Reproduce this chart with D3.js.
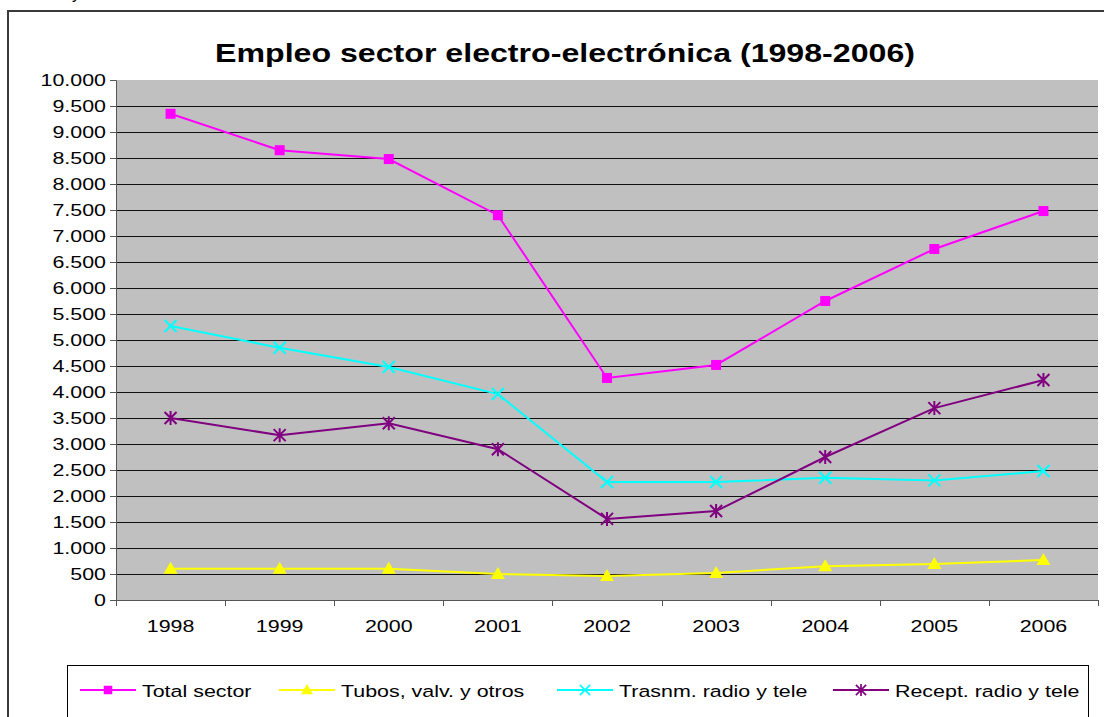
<!DOCTYPE html>
<html>
<head>
<meta charset="utf-8">
<script src="https://cdn.jsdelivr.net/npm/d3@7"></script>
<style>
  body { margin: 0; background: #fff; }
  svg { display: block; font-family: 'Liberation Sans', Arial, sans-serif; }
</style>
</head>
<body>
<div id="chart"></div>
<script>
const years = ['1998', '1999', '2000', '2001', '2002', '2003', '2004', '2005', '2006']
const yTicks = d3.range(0, 10001, 500)

const totalSector = [9350, 8650, 8480, 7400, 4270, 4520, 5750, 6750, 7480]
const tubos = [600, 600, 600, 500, 460, 520, 650, 690, 770]
const trasnm = [5270, 4850, 4480, 3960, 2270, 2270, 2350, 2300, 2480]
const recept = [3500, 3170, 3400, 2900, 1560, 1710, 2750, 3690, 4230]

const seriesNames = ['Total sector', 'Tubos, valv. y otros', 'Trasnm. radio y tele', 'Recept. radio y tele']
const seriesColors = ['#FF00FF', '#FFFF00', '#00FFFF', '#800080']
const seriesMarkers = ['square', 'triangle', 'x', 'star']
const seriesValues = [totalSector, tubos, trasnm, recept]

const W = 1104, H = 717
const plot = { left: 116, top: 80, right: 1098, bottom: 600 }
// the original text is drawn a bit wider than plain Arial
const SX = 1.26

const svg = d3.select('#chart').append('svg')
  .attr('width', W).attr('height', H)

// stray letter cut off at the top of the capture
svg.append('text').attr('x', 72).attr('y', -1)
  .attr('font-size', 16).text('y')

// outer chart border
svg.append('rect')
  .attr('x', 8).attr('y', 11).attr('width', W + 10).attr('height', H)
  .attr('fill', '#fff').attr('stroke', '#3a3a3a').attr('stroke-width', 2)

svg.append('text')
  .attr('transform', `translate(565,62) scale(${SX},1)`)
  .attr('text-anchor', 'middle')
  .attr('font-size', 25.5).attr('font-weight', 'bold')
  .text('Empleo sector electro-electrónica (1998-2006)')

const x = d3.scaleBand().domain(years).range([plot.left, plot.right])
const y = d3.scaleLinear().domain([0, 10000]).range([plot.bottom, plot.top])

// plot background
svg.append('rect')
  .attr('x', plot.left).attr('y', plot.top)
  .attr('width', plot.right - plot.left).attr('height', plot.bottom - plot.top)
  .attr('fill', '#C0C0C0')

// gridlines
svg.append('g')
  .selectAll('line')
  .data(yTicks.filter((d) => d > 0 && d < 10000))
  .join('line')
  .attr('x1', plot.left).attr('x2', plot.right)
  .attr('y1', (d) => Math.round(y(d)) + 0.5).attr('y2', (d) => Math.round(y(d)) + 0.5)
  .attr('stroke', '#111').attr('stroke-width', 1)

const fmt = (d) => d3.format(',')(d).replace(/,/g, '.')

// Y axis
const yAxis = svg.append('g')
  .attr('transform', `translate(${plot.left},0)`)
  .call(d3.axisLeft(y).tickValues(yTicks).tickSize(6).tickPadding(4).tickFormat(fmt))
yAxis.select('.domain').attr('stroke', '#555')
yAxis.selectAll('.tick line').attr('stroke', '#555')
yAxis.selectAll('text').attr('font-size', 17).attr('fill', '#000')
  .attr('font-family', "'Liberation Sans', Arial, sans-serif")
  .attr('x', -10 / SX)
  .attr('transform', `scale(${SX},1)`)

// X axis
const xAxis = svg.append('g')
  .attr('transform', `translate(0,${plot.bottom})`)
  .call(d3.axisBottom(x).tickSize(0).tickPadding(20))
xAxis.select('.domain').attr('stroke', '#555').attr('d', `M${plot.left},0.5H${plot.right}`)
xAxis.selectAll('text').attr('font-size', 17).attr('fill', '#000')
  .attr('font-family', "'Liberation Sans', Arial, sans-serif")
  .attr('transform', `scale(${SX},1)`)
svg.append('g')
  .selectAll('line')
  .data(years.concat(['end']))
  .join('line')
  .attr('x1', (d, i) => Math.round(plot.left + i * x.step()) + 0.5)
  .attr('x2', (d, i) => Math.round(plot.left + i * x.step()) + 0.5)
  .attr('y1', plot.bottom).attr('y2', plot.bottom + 6)
  .attr('stroke', '#555')

const cx = (d, i) => x(years[i]) + x.bandwidth() / 2

const drawMarker = (g, type, color) => {
  if (type === 'square') {
    g.append('rect').attr('x', -5).attr('y', -5).attr('width', 10).attr('height', 10)
      .attr('fill', color)
  } else if (type === 'triangle') {
    g.append('path').attr('d', 'M0,-7L7,5L-7,5Z').attr('fill', color)
  } else if (type === 'x') {
    g.append('path').attr('d', 'M-6,-6L6,6M-6,6L6,-6')
      .attr('stroke', color).attr('stroke-width', 2)
  } else {
    g.append('path').attr('d', 'M-6,-6L6,6M-6,6L6,-6M0,-7V7')
      .attr('stroke', color).attr('stroke-width', 2)
  }
}

const line = d3.line().x(cx).y((d) => y(d))

seriesValues.forEach((vals, s) => {
  const g = svg.append('g')
  g.append('path')
    .datum(vals)
    .attr('d', line)
    .attr('fill', 'none')
    .attr('stroke', seriesColors[s])
    .attr('stroke-width', 2)
  vals.forEach((v, i) => {
    const m = g.append('g').attr('transform', `translate(${cx(v, i)},${y(v)})`)
    drawMarker(m, seriesMarkers[s], seriesColors[s])
  })
})

// legend
svg.append('rect')
  .attr('x', 67.5).attr('y', 665.5).attr('width', 1021).attr('height', 80)
  .attr('fill', '#fff').attr('stroke', '#000').attr('stroke-width', 1)

const legendX = [80, 279, 557, 833]
seriesNames.forEach((name, s) => {
  const g = svg.append('g').attr('transform', `translate(${legendX[s]},690)`)
  g.append('line').attr('x1', 0).attr('x2', 56).attr('y1', 0).attr('y2', 0)
    .attr('stroke', seriesColors[s]).attr('stroke-width', 2)
  const m = g.append('g').attr('transform', 'translate(28,0) scale(0.85)')
  drawMarker(m, seriesMarkers[s], seriesColors[s])
  g.append('text').attr('transform', `translate(62,6.5) scale(${SX},1)`)
    .attr('font-size', 17).text(name)
})
</script>
</body>
</html>
